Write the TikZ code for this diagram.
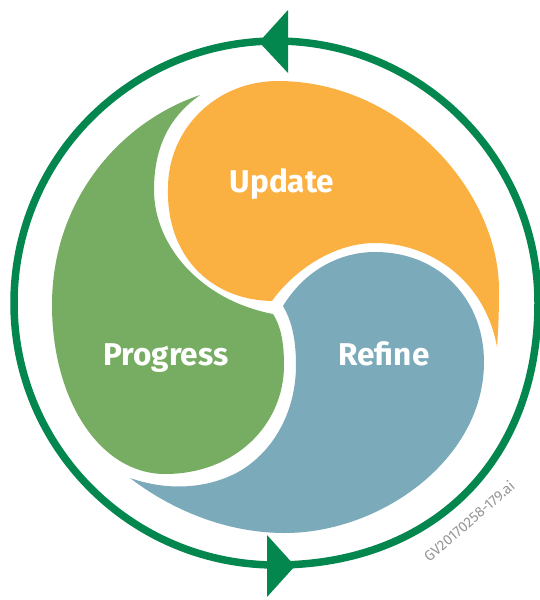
\documentclass[tikz,border=0pt]{standalone}
\usepackage{fontspec}
\setmainfont{Fira Sans}
\definecolor{ringgreen}{RGB}{4,135,78}
\definecolor{updorange}{RGB}{251,176,66}
\definecolor{proggreen}{RGB}{119,173,99}
\definecolor{refblue}{RGB}{123,170,187}
\definecolor{wmgray}{RGB}{150,150,150}
\tikzset{
  ringline/.style={draw=ringgreen,line width=7.5pt},
  ringtip/.style={fill=ringgreen},
  updshape/.style={fill=updorange},
  progshape/.style={fill=proggreen},
  refshape/.style={fill=refblue},
  lbl/.style={text=white,font=\fontsize{31.5}{34}\selectfont\bfseries,anchor=base,inner sep=0pt},
  wmark/.style={text=wmgray,font=\fontsize{14.5}{17}\selectfont,inner sep=0pt}
}
\begin{document}
\begin{tikzpicture}[x=1pt,y=-1pt]
\useasboundingbox (0,0) rectangle (540,600);
\begin{scope}
\clip (0,0) rectangle (540,600);
% outer ring (slightly wider towards the lower right)
\draw[ringline] (276,41) .. controls (131.3,41) and (14,158.3) .. (14,303)
  .. controls (14,447.7) and (131.3,565) .. (276,565)
  .. controls (433.2,565) and (538,460.2) .. (538,303)
  .. controls (538,158.3) and (420.7,41) .. (276,41) -- cycle;
\fill[ringtip] (259,42) -- (288,10) -- (288,73) -- cycle;
\fill[ringtip] (295,566) -- (267,535) -- (267,597) -- cycle;
% Update (orange)
\fill[updshape] (272,301) .. controls (210,300) and (166,255) .. (168,188)
  .. controls (168,130) and (215,81) .. (278,81)
  .. controls (400,81) and (499,190) .. (499,290)
  .. controls (499,315) and (498,335) .. (497,347)
  .. controls (485,280) and (430,243) .. (375,243)
  .. controls (330,243) and (290,275) .. (272,301) -- cycle;
% Progress (green)
\fill[progshape] (200,95) .. controls (120,122) and (52,200) .. (52,305)
  .. controls (52,400) and (100,474) .. (165,474)
  .. controls (235,474) and (284,425) .. (284,365)
  .. controls (284,340) and (280,325) .. (273,314)
  .. controls (200,300) and (154,245) .. (154,190)
  .. controls (154,140) and (175,113) .. (200,95) -- cycle;
% Refine (blue)
\fill[refshape] (283,306) .. controls (305,270) and (340,252) .. (375,252)
  .. controls (440,252) and (484,300) .. (484,362)
  .. controls (484,460) and (380,533) .. (285,533)
  .. controls (220,533) and (165,505) .. (130,478)
  .. controls (170,492) and (210,488) .. (240,471)
  .. controls (275,450) and (296,410) .. (296,365)
  .. controls (296,335) and (290,318) .. (283,306) -- cycle;
\end{scope}
% labels
\node[lbl] (update) at (282,192) {Update};
\node[lbl] (progress) at (166,365) {Progress};
\node[lbl] (refine) at (384,365) {Refine};
\node[wmark,rotate=41] (code) at (469,521) {GV20170258-179.ai};
\end{tikzpicture}
\end{document}
